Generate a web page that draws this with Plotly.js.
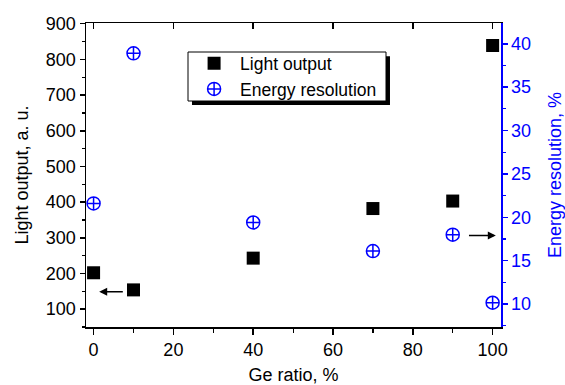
<!DOCTYPE html>
<html>
<head>
<meta charset="utf-8">
<script src="https://cdn.plot.ly/plotly-3.0.1.min.js"></script>
<style>html,body{margin:0;padding:0;background:#fff}#chart{width:565px;height:385px}</style>
</head>
<body>
<div id="chart"></div>
<script>
// Data
const geRatio = [0, 10, 40, 70, 90, 100];
const lightOutput = [202, 154, 243, 382, 403, 839];
const energyResolution = [21.6, 38.9, 19.4, 16.1, 18.0, 10.15];
const seriesNames = ["Light output", "Energy resolution"];
const xTitle = "Ge ratio, %";
const yTitle = "Light output, a. u.";
const y2Title = "Energy resolution, %";
// arrow annotations: [tailX, headX, y]
const leftArrow = [7.7, 1.4, 149];
const rightArrow = [93.7, 100.8, 17.9];

const FONT = "Liberation Sans, Arial, sans-serif";
const BLUE = "#0000ff";
const FS = 18;

const traces = [
  {x: geRatio, y: lightOutput, name: seriesNames[0], type: "scatter", mode: "markers",
   marker: {symbol: "square", size: 13, color: "#000", line: {width: 0}}, xaxis: "x", yaxis: "y"},
  {x: geRatio, y: energyResolution, name: seriesNames[1], type: "scatter", mode: "markers",
   marker: {symbol: "circle-cross-open", size: 13, color: BLUE, line: {width: 1.5, color: BLUE}}, xaxis: "x", yaxis: "y2"},
  {x: [null], y: [null], xaxis: "x2", yaxis: "y", showlegend: false, hoverinfo: "skip", mode: "markers"}
];

const layout = {
  width: 565, height: 385,
  margin: {l: 86, r: 64, t: 23, b: 58, pad: 0},
  paper_bgcolor: "#fff", plot_bgcolor: "#fff",
  font: {family: FONT, size: FS, color: "#000"},
  showlegend: true,
  legend: {x: 0.246, y: 0.9266, xanchor: "left", yanchor: "top", bgcolor: "rgba(0,0,0,0)",
           borderwidth: 0, font: {family: FONT, size: 17.5, color: "#000"},
           itemwidth: 42, tracegroupgap: 0},
  xaxis: {range: [-1.9, 102.1], showgrid: false, zeroline: false, showline: true, linecolor: "#000", linewidth: 1.5,
          ticks: "outside", ticklen: 6, tickwidth: 1.5, tickcolor: "#000", dtick: 20, tick0: 0,
          minor: {dtick: 10, ticks: "outside", ticklen: 4, tickwidth: 1.2, tickcolor: "#000"},
          tickfont: {family: FONT, size: FS, color: "#000"},
          title: {text: xTitle, font: {family: FONT, size: FS, color: "#000"}, standoff: 22}, automargin: false},
  xaxis2: {range: [-1.9, 102.1], overlaying: "x", side: "top", anchor: "y", showgrid: false, zeroline: false,
           showline: true, linecolor: "#000", linewidth: 1.5, ticks: "inside", ticklen: 6, tickwidth: 1.5,
           tickcolor: "#000", dtick: 20, tick0: 0, showticklabels: false},
  yaxis: {range: [50, 902], showgrid: false, zeroline: false, showline: true, linecolor: "#000", linewidth: 1.5,
          ticks: "outside", ticklen: 5, tickwidth: 1.5, tickcolor: "#000", dtick: 100, tick0: 0,
          minor: {dtick: 50, ticks: "outside", ticklen: 3, tickwidth: 1.2, tickcolor: "#000"},
          tickfont: {family: FONT, size: FS, color: "#000"},
          title: {text: yTitle, font: {family: FONT, size: FS, color: "#000"}, standoff: 12}, automargin: false},
  yaxis2: {range: [7.35, 42.4], overlaying: "y", side: "right", anchor: "x", showgrid: false, zeroline: false,
           showline: true, linecolor: BLUE, linewidth: 1.5, ticks: "outside", ticklen: 5, tickwidth: 1.5,
           tickcolor: BLUE, dtick: 5, tick0: 0,
           minor: {dtick: 2.5, ticks: "outside", ticklen: 3, tickwidth: 1.2, tickcolor: BLUE},
           tickfont: {family: FONT, size: FS, color: BLUE},
           title: {text: y2Title, font: {family: FONT, size: FS, color: BLUE}, standoff: 20}, automargin: false},
  shapes: [
    {type: "rect", xref: "paper", yref: "paper", x0: 0.2554, x1: 0.7325, y0: 0.730, y1: 0.891,
     fillcolor: "#000", line: {width: 0}, layer: "above"},
    {type: "rect", xref: "paper", yref: "paper", x0: 0.2458, x1: 0.7229, y0: 0.7434, y1: 0.9046,
     fillcolor: "#fff", line: {width: 1, color: "#000"}, layer: "above"}
  ],
  annotations: [
    {x: leftArrow[1], y: leftArrow[2], ax: leftArrow[0], ay: leftArrow[2], xref: "x", yref: "y",
     axref: "x", ayref: "y", showarrow: true, arrowhead: 2, arrowsize: 1, arrowwidth: 1.6, arrowcolor: "#000", text: ""},
    {x: rightArrow[1], y: rightArrow[2], ax: rightArrow[0], ay: rightArrow[2], xref: "x", yref: "y2",
     axref: "x", ayref: "y2", showarrow: true, arrowhead: 2, arrowsize: 1, arrowwidth: 1.6, arrowcolor: "#000", text: ""}
  ]
};

Plotly.newPlot("chart", traces, layout, {displayModeBar: false, staticPlot: true});
</script>
</body>
</html>
